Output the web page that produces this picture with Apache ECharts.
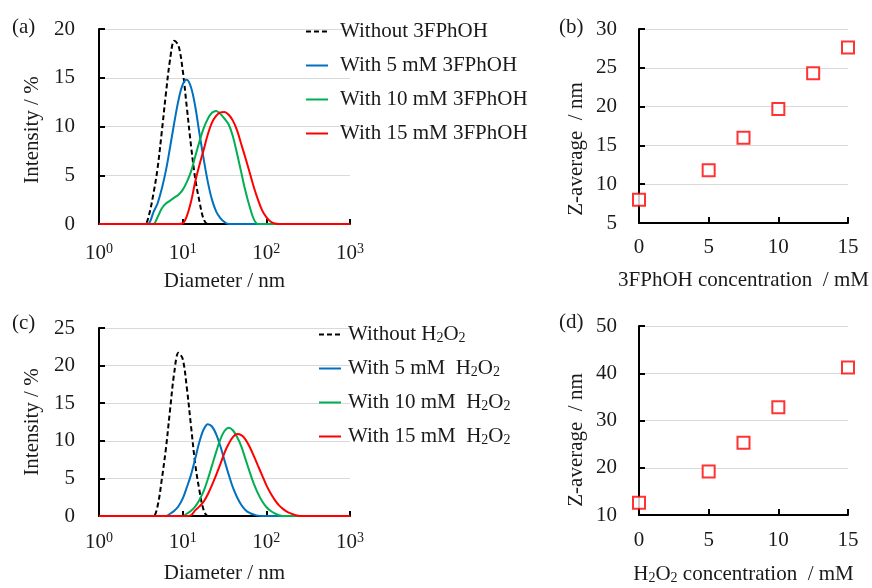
<!DOCTYPE html>
<html>
<head>
<meta charset="utf-8">
<script src="https://cdn.jsdelivr.net/npm/echarts@6/dist/echarts.min.js"></script>
<style>
  html, body { margin: 0; padding: 0; background: #fff; }
  #main { width: 872px; height: 588px; }
</style>
</head>
<body>
<div id="main"></div>
<script>
// shared diameter bins (nm) of the size distributions
const diameters = [1,
  3.16, 3.55, 3.98, 4.47, 5.01, 5.62, 6.31, 7.08, 7.94, 8.91,
  10.0, 11.2, 12.6, 14.1, 15.8, 17.8, 20.0, 22.4, 25.1, 28.2,
  31.6, 35.5, 39.8, 44.7, 50.1, 56.2, 63.1, 70.8, 79.4, 89.1,
  100, 112, 126, 141, 158, 178, 200, 224, 251,
  1000];

// (a) intensity / %, 3FPhOH
const noPhenol = [0,
  0, 0, 1.0, 3.1, 5.7, 9.4, 13.4, 16.9, 18.8, 18.3,
  15.8, 12.0, 8.0, 4.7, 2.4, 0.5, 0, 0, 0, 0,
  0, 0, 0, 0, 0, 0, 0, 0, 0, 0,
  0, 0, 0, 0, 0, 0, 0, 0, 0,
  0];
const phenol5 = [0,
  0, 0, 0.1, 1.2, 2.1, 3.6, 5.5, 7.9, 10.4, 12.7,
  14.3, 14.8, 14.0, 12.1, 9.4, 6.7, 4.3, 2.5, 1.3, 0.6,
  0.2, 0, 0, 0, 0, 0, 0, 0, 0, 0,
  0, 0, 0, 0, 0, 0, 0, 0, 0,
  0];
const phenol10 = [0,
  0, 0, 0, 0, 0.7, 1.6, 2.1, 2.4, 2.7, 3.0,
  3.5, 4.3, 5.4, 6.9, 8.4, 9.8, 10.8, 11.4, 11.6, 11.3,
  10.8, 10.2, 9.0, 7.2, 5.3, 3.4, 1.8, 0.5, 0, 0,
  0, 0, 0, 0, 0, 0, 0, 0, 0,
  0];
const phenol15 = [0,
  0, 0, 0, 0, 0, 0, 0, 0, 0, 0,
  0.05, 0.8, 2.3, 4.3, 6.0, 7.6, 9.2, 10.4, 11.1, 11.45,
  11.5, 11.2, 10.6, 9.6, 8.2, 6.8, 5.3, 3.8, 2.5, 1.4,
  0.7, 0.25, 0.05, 0, 0, 0, 0, 0, 0,
  0];

// (c) intensity / %, H2O2
const noPerox = [0,
  0, 0, 0, 0, 1.3, 4.8, 9.0, 14.2, 19.1, 21.7,
  20.9, 17.1, 11.9, 7.0, 3.5, 0.8, 0, 0, 0, 0,
  0, 0, 0, 0, 0, 0, 0, 0, 0, 0,
  0, 0, 0, 0, 0, 0, 0, 0, 0,
  0];
const perox5 = [0,
  0, 0, 0, 0, 0, 0, 0, 0.3, 0.7, 1.3,
  2.3, 3.8, 5.5, 7.6, 9.8, 11.5, 12.2, 11.9, 10.9, 9.3,
  7.4, 5.5, 3.8, 2.5, 1.5, 0.8, 0.4, 0.2, 0.05, 0,
  0, 0, 0, 0, 0, 0, 0, 0, 0,
  0];
const perox10 = [0,
  0, 0, 0, 0, 0, 0, 0, 0, 0, 0,
  0, 0.3, 0.7, 1.25, 2.1, 3.3, 4.9, 6.7, 8.5, 10.2,
  11.3, 11.75, 11.4, 10.5, 9.3, 7.6, 5.9, 4.3, 3.0, 1.95,
  1.2, 0.7, 0.35, 0.1, 0, 0, 0, 0, 0,
  0];
const perox15 = [0,
  0, 0, 0, 0, 0, 0, 0, 0, 0, 0,
  0, 0, 0.1, 0.75, 1.25, 1.9, 2.9, 4.1, 5.45, 6.9,
  8.4, 9.6, 10.5, 10.9, 10.75, 10.2, 9.2, 8.0, 6.7, 5.4,
  4.1, 3.05, 2.15, 1.45, 0.95, 0.55, 0.3, 0.1, 0,
  0];

// (b) and (d) Z-average / nm against concentration / mM
const concPhenol = [0, 5, 7.5, 10, 12.5, 15];
const zavgPhenol = [8.0, 11.8, 16.0, 19.7, 24.3, 27.6];
const concPerox = [0, 5, 7.5, 10, 15];
const zavgPerox = [12.6, 19.2, 25.3, 32.8, 41.2];

const namesPhenol = ['Without 3FPhOH', 'With 5 mM 3FPhOH', 'With 10 mM 3FPhOH', 'With 15 mM 3FPhOH'];
const namesPerox = ['Without H2O2', 'With 5 mM  H2O2', 'With 10 mM  H2O2', 'With 15 mM  H2O2'];
const lineColors = ['#000000', '#0070C0', '#00B050', '#FF0000'];

const FONT = '"Liberation Serif", "Times New Roman", serif';
const FS = 21;
const TXT = '#1a1a1a';

const chart = echarts.init(document.getElementById('main'));

const subRich = {
  n: { fontFamily: FONT, fontSize: FS, color: TXT },
  s: { fontFamily: FONT, fontSize: 14, color: TXT, verticalAlign: 'bottom' }
};

function logAxis(gi, labelMargin, nameGap) {
  return {
    type: 'log', logBase: 10, gridIndex: gi, min: 1, max: 1000,
    axisLine: { show: true, onZero: false, lineStyle: { color: '#000', width: 2 } },
    axisTick: { show: true, inside: true, length: 5, lineStyle: { color: '#000', width: 2 } },
    minorTick: { show: false },
    splitLine: { show: false },
    axisLabel: {
      margin: labelMargin,
      formatter: v => '{b|10}{p|' + Math.round(Math.log10(v)) + '}',
      rich: {
        b: { fontFamily: FONT, fontSize: FS, lineHeight: 22, color: TXT },
        p: { fontFamily: FONT, fontSize: 14, lineHeight: 14, color: TXT, verticalAlign: 'top' }
      }
    },
    name: 'Diameter / nm', nameLocation: 'middle', nameGap: nameGap,
    nameTextStyle: { fontFamily: FONT, fontSize: FS, color: TXT }
  };
}

function concAxis(gi, labelMargin, name, nameGap, rich) {
  return {
    type: 'value', gridIndex: gi, min: 0, max: 15, interval: 5,
    axisLine: { show: true, onZero: false, lineStyle: { color: '#000', width: 2 } },
    axisTick: { show: true, inside: true, length: 6, lineStyle: { color: '#000', width: 2 } },
    splitLine: { show: false },
    axisLabel: { margin: labelMargin, fontFamily: FONT, fontSize: FS, color: TXT },
    name: name, nameLocation: 'middle', nameGap: nameGap,
    nameTextStyle: { fontFamily: FONT, fontSize: FS, color: TXT, rich: rich }
  };
}

function valAxis(gi, min, max, interval, labelMargin) {
  return {
    type: 'value', gridIndex: gi, min: min, max: max, interval: interval,
    axisLine: { show: true, onZero: false, lineStyle: { color: '#000', width: 2 } },
    axisTick: { show: true, inside: true, length: 6, lineStyle: { color: '#000', width: 2 } },
    splitLine: { show: true, lineStyle: { color: '#d9d9d9', width: 1 } },
    axisLabel: { margin: labelMargin, fontFamily: FONT, fontSize: FS, color: TXT }
  };
}

function distSeries(name, values, idx, gi) {
  return {
    type: 'line', name: name, xAxisIndex: gi, yAxisIndex: gi,
    data: diameters.map((d, i) => [d, values[i]]),
    symbol: 'none', smooth: 0.35,
    lineStyle: { color: lineColors[idx], width: 2, type: idx === 0 ? [5, 3] : 'solid' },
    itemStyle: { color: lineColors[idx] },
    z: 2 + idx
  };
}

function zSeries(name, xs, ys, gi) {
  return {
    type: 'scatter', name: name, xAxisIndex: gi, yAxisIndex: gi,
    data: xs.map((x, i) => [x, ys[i]]),
    symbol: 'rect', symbolSize: 12,
    itemStyle: { color: '#ffffff', borderColor: '#FF0000', borderWidth: 2 },
    clip: false, z: 5
  };
}

function yTitle(text, x, y) {
  return {
    type: 'text', x: x, y: y, rotation: Math.PI / 2,
    style: { text: text, font: FS + 'px ' + FONT, fill: TXT, align: 'center', verticalAlign: 'middle' }
  };
}

function panelTag(text, x, y) {
  return {
    type: 'text', x: x, y: y,
    style: { text: text, font: FS + 'px ' + FONT, fill: TXT, align: 'left', verticalAlign: 'middle' }
  };
}

// legend shows only the line, no marker
const legendBase = {
  orient: 'vertical', padding: 0, itemWidth: 22, itemHeight: 4, itemGap: 13,
  selectedMode: false,
  itemStyle: { color: 'rgba(0,0,0,0)', borderWidth: 0, opacity: 0 }
};

const distData = [noPhenol, phenol5, phenol10, phenol15];
const peroxData = [noPerox, perox5, perox10, perox15];

const option = {
  animation: false,
  backgroundColor: '#ffffff',
  grid: [
    { left: 99, top: 29, width: 251, height: 195, outerBoundsMode: 'none' },
    { left: 639, top: 29, width: 209, height: 194, outerBoundsMode: 'none' },
    { left: 99, top: 328, width: 251, height: 188, outerBoundsMode: 'none' },
    { left: 639, top: 326, width: 209, height: 189, outerBoundsMode: 'none' }
  ],
  xAxis: [
    logAxis(0, 18, 47),
    concAxis(1, 14, '3FPhOH concentration  / mM', 47),
    logAxis(2, 15, 47),
    concAxis(3, 15, '{n|H}{s|2}{n|O}{s|2}{n| concentration  / mM}', 49, subRich)
  ],
  yAxis: [
    valAxis(0, 0, 20, 5, 24),
    valAxis(1, 5, 30, 5, 22),
    valAxis(2, 0, 25, 5, 24),
    valAxis(3, 10, 50, 10, 22)
  ],
  legend: [
    Object.assign({}, legendBase, {
      data: namesPhenol, left: 305, top: 21,
      textStyle: { fontFamily: FONT, fontSize: FS, color: TXT, padding: [0, 0, 0, 7] }
    }),
    Object.assign({}, legendBase, {
      data: namesPerox, left: 318, top: 324,
      formatter: name => name.replace('H2O2', '{n|H}{s|2}{n|O}{s|2}'),
      textStyle: { fontFamily: FONT, fontSize: FS, color: TXT, padding: [0, 0, 0, 2], rich: subRich }
    })
  ],
  graphic: [
    panelTag('(a)', 12, 27),
    panelTag('(b)', 559, 27),
    panelTag('(c)', 12, 323),
    panelTag('(d)', 559, 322),
    yTitle('Intensity / %', 32, 130),
    yTitle('Z-average  / nm', 576, 149),
    yTitle('Intensity / %', 32, 422),
    yTitle('Z-average  / nm', 576, 440)
  ],
  series: [
    ...namesPhenol.map((n, i) => distSeries(n, distData[i], i, 0)),
    zSeries('zavg3FPhOH', concPhenol, zavgPhenol, 1),
    ...namesPerox.map((n, i) => distSeries(n, peroxData[i], i, 2)),
    zSeries('zavgH2O2', concPerox, zavgPerox, 3)
  ]
};

chart.setOption(option);
</script>
</body>
</html>
